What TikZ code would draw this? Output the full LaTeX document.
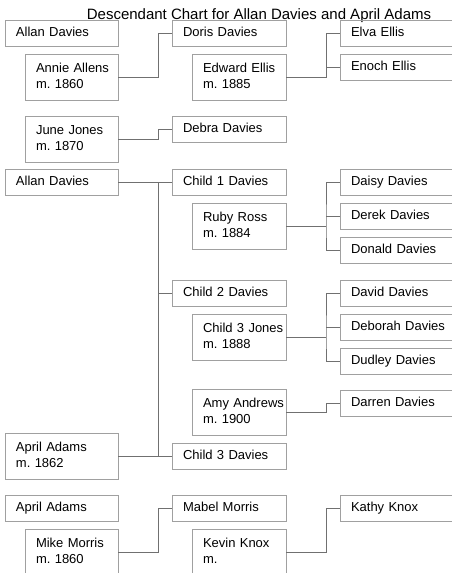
\documentclass[tikz,border=0pt]{standalone}
\usepackage{fontspec}
\setmainfont{Liberation Sans}
\definecolor{boxgray}{HTML}{A0A0A0}
\definecolor{linkgray}{HTML}{707070}

\begin{document}
\begin{tikzpicture}[x=1pt, y=-1pt,
        person/.style={draw=boxgray, line width=1pt, outer sep=0pt,
                       anchor=north west, inner ysep=0pt, inner xsep=11pt,
                       align=left, font=\fontsize{13}{15.6}\selectfont,
                       execute at begin node={\frenchspacing\hyphenpenalty=10000\relax},
                       text height=10pt, text depth=3pt, minimum height=26pt},
        couple/.style={text depth=18.6pt, minimum height=46pt},
        root/.style={person, text width=91pt},
        rootmate/.style={person, text width=71pt},
        child/.style={person, text width=92pt},
        childmate/.style={person, text width=72pt},
        grand/.style={person, text width=92pt},
        link/.style={draw=linkgray, line width=1pt}
    ]
        \useasboundingbox (0,0) rectangle (452,573);
        \clip (0,0) rectangle (452,573);
        \fill[white] (0,0) rectangle (452,573);

        \node[font=\fontsize{15}{18}\selectfont, anchor=base, inner sep=0pt] (title) at (259,19)
            {Descendant Chart for Allan Davies and April Adams};

        % first marriage
        \node[root] (allanA) at (5,20) {Allan~Davies};
        \node[rootmate, couple] (annie) at (25,54) {Annie~Allens\\m. 1860};
        \node[child] (doris) at (172,20) {Doris~Davies};
        \node[childmate, couple] (edward) at (192,54) {Edward~Ellis\\m. 1885};
        \node[grand] (elva) at (340,20) {Elva~Ellis};
        \node[grand] (enoch) at (340,54) {Enoch~Ellis};
        \node[rootmate, couple] (june) at (25,116) {June~Jones\\m. 1870};
        \node[child] (debra) at (172,116) {Debra~Davies};

        \draw[link] (annie.east) -- ++(40,0) |- (doris.west);
        \draw[link] (edward.east) -- ++(40,0) coordinate (jE) |- (elva.west);
        \draw[link] (enoch.west) -- (enoch.west -| jE);
        \draw[link] (june.east) -- ++(40,0) |- (debra.west);

        % second marriage
        \node[root] (allanB) at (5,169) {Allan~Davies};
        \node[child] (kid1) at (172,169) {Child~1~Davies};
        \node[childmate, couple] (ruby) at (192,203) {Ruby~Ross\\m. 1884};
        \node[grand] (daisy) at (340,169) {Daisy~Davies};
        \node[grand] (derek) at (340,203) {Derek~Davies};
        \node[grand] (donald) at (340,237) {Donald~Davies};
        \node[child] (kid2) at (172,280) {Child~2~Davies};
        \node[childmate, couple] (jones) at (192,314) {Child~3~Jones\\m. 1888};
        \node[grand] (david) at (340,280) {David~Davies};
        \node[grand] (deborah) at (340,314) {Deborah~Davies};
        \node[grand] (dudley) at (340,348) {Dudley~Davies};
        \node[childmate, couple] (amy) at (192,389) {Amy~Andrews\\m. 1900};
        \node[grand] (darren) at (340,390) {Darren~Davies};
        \node[root, couple] (aprilB) at (5,433) {April~Adams\\m. 1862};
        \node[child] (kid3) at (172,443) {Child~3~Davies};

        \draw[link] (allanB.east) -- ++(40,0) coordinate (jB) |- (aprilB.east);
        \draw[link] (kid1.west) -- (kid1.west -| jB);
        \draw[link] (kid2.west) -- (kid2.west -| jB);
        \draw[link] (kid3.west) -- (kid3.west -| jB);
        \draw[link] (ruby.east) -- ++(40,0) coordinate (jR);
        \draw[link] (daisy.west) -| (jR) |- (donald.west);
        \draw[link] (derek.west) -- (derek.west -| jR);
        \draw[link] (jones.east) -- ++(40,0) coordinate (jJ);
        \draw[link] (david.west) -| (jJ) |- (dudley.west);
        \draw[link] (deborah.west) -- (deborah.west -| jJ);
        \draw[link] (amy.east) -- ++(40,0) |- (darren.west);

        % third marriage
        \node[root] (aprilC) at (5,495) {April~Adams};
        \node[rootmate, couple] (mike) at (25,529) {Mike~Morris\\m. 1860};
        \node[child] (mabel) at (172,495) {Mabel~Morris};
        \node[childmate, couple] (kevin) at (192,529) {Kevin~Knox\\m.};
        \node[grand] (kathy) at (340,495) {Kathy~Knox};

        \draw[link] (mike.east) -- ++(40,0) |- (mabel.west);
        \draw[link] (kevin.east) -- ++(40,0) |- (kathy.west);
    \end{tikzpicture}
\end{document}
